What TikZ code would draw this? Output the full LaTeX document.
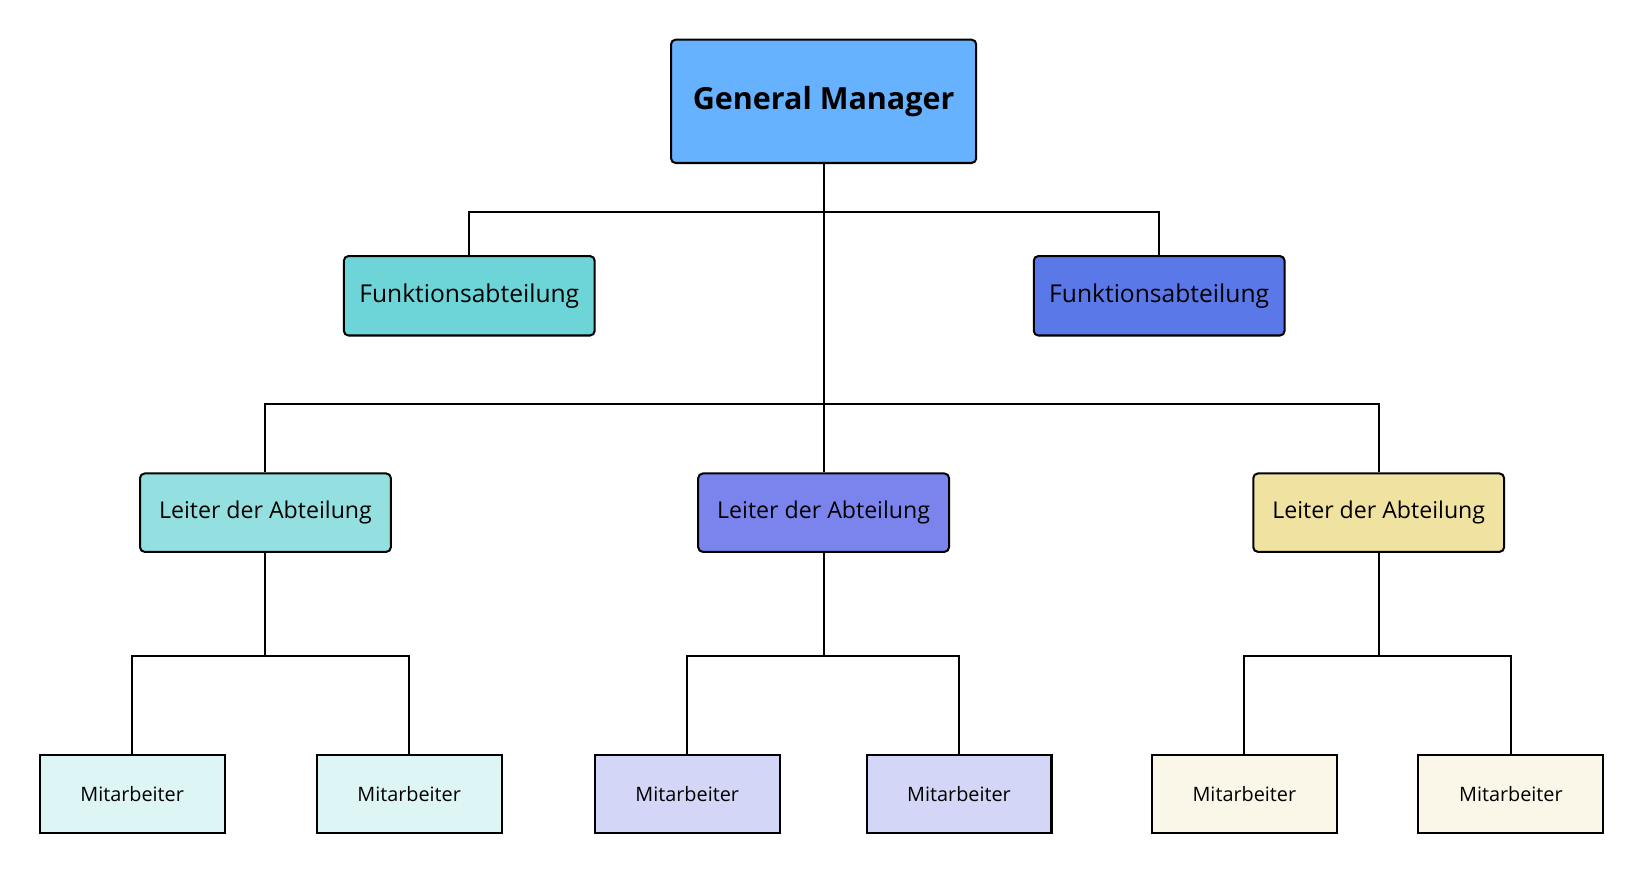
\documentclass[tikz,border=0pt]{standalone}
\usepackage{fontspec}
\usetikzlibrary{calc}
\setmainfont{Open Sans}
\begin{document}
\begin{tikzpicture}[x=0.02cm,y=-0.02cm,
 box/.style={draw=black,line width=1.1pt,inner sep=0pt,anchor=north west},
 rbox/.style={box,rounded corners=2.5pt},
 ln/.style={line width=1.1pt}]
\useasboundingbox (0,0) rectangle (1568,832);
\definecolor{cgm}{HTML}{66B2FF}\definecolor{cf1}{HTML}{6DD5D8}\definecolor{cf2}{HTML}{5B78E8}
\definecolor{cl1}{HTML}{94E0E0}\definecolor{cl2}{HTML}{7B84EC}\definecolor{cl3}{HTML}{F0E2A0}
\definecolor{cm1}{HTML}{DDF5F5}\definecolor{cm2}{HTML}{D3D6F7}\definecolor{cm3}{HTML}{FBF7E8}
\node[rbox,fill=cgm,minimum width=5.84cm,minimum height=2.36cm] (gm) at (641,37) {};
\node[font=\fontsize{16.6}{18}\selectfont\bfseries] at (gm.center) {General Manager};
\foreach \n/\x/\c in {f1/328/cf1,f2/988/cf2}{
 \node[rbox,fill=\c,minimum width=4.8cm,minimum height=1.52cm] (\n) at (\x,244) {};
 \node[font=\fontsize{13.4}{15}\selectfont] at (\n.center) {Funktionsabteilung};}
\foreach \n/\x/\c in {l1/133/cl1,l2/667/cl2,l3/1198/cl3}{
 \node[rbox,fill=\c,minimum width=4.8cm,minimum height=1.5cm] (\n) at (\x,452) {};
 \node[font=\fontsize{12.6}{14}\selectfont] at (\n.center) {Leiter der Abteilung};}
\foreach \n/\x/\c in {m1/37/cm1,m2/302/cm1,m3/568/cm2,m4/828/cm2,m5/1101/cm3,m6/1356/cm3}{
 \node[box,fill=\c,minimum width=3.54cm,minimum height=1.5cm] (\n) at (\x,721) {};
 \node[font=\fontsize{10.8}{12}\selectfont] at (\n.center) {Mitarbeiter};}
\coordinate (b1) at ($(gm.south)+(0,46)$);
\coordinate (b2) at ($(gm.south)+(0,230)$);
\draw[ln] (gm.south) -- (b2);
\draw[ln] (f1.north) |- (b1) -| (f2.north);
\draw[ln] (l1.north) |- (b2) -| (l3.north);
\draw[ln] (b2) -- (b2 -| l2.north) -- (l2.north);
\draw[ln] (l1.south) -- ++(0,99) coordinate (c1);
\draw[ln] (m1.north) |- (c1) -| (m2.north);
\draw[ln] (l2.south) -- ++(0,99) coordinate (c2);
\draw[ln] (m3.north) |- (c2) -| (m4.north);
\draw[ln] (l3.south) -- ++(0,99) coordinate (c3);
\draw[ln] (m5.north) |- (c3) -| (m6.north);
\end{tikzpicture}
\end{document}
